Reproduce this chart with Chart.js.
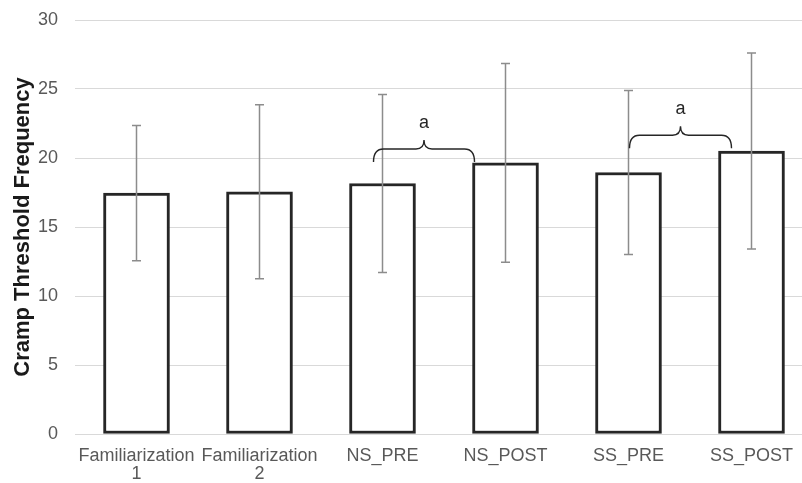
<!DOCTYPE html>
<html>
<head>
<meta charset="utf-8">
<script src="https://cdn.jsdelivr.net/npm/chart.js@4"></script>
<style>
  html, body { margin: 0; padding: 0; overflow: hidden; background: #fff; }
</style>
</head>
<body>
<canvas id="chart" width="813" height="483"></canvas>
<script>
const categories = [['Familiarization', '1'], ['Familiarization', '2'], 'NS_PRE', 'NS_POST', 'SS_PRE', 'SS_POST'];
const means = [17.45, 17.55, 18.15, 19.65, 18.95, 20.5];
const sds = [4.9, 6.3, 6.45, 7.2, 5.95, 7.1];
const yTicks = [0, 5, 10, 15, 20, 25, 30];

// significance braces: category pair, height in data units
const braces = [
  { from: 2, to: 3, y: 20.65, label: 'a', dxFrom: -9, dxTo: -31 },
  { from: 4, to: 5, y: 21.65, label: 'a', dxFrom: 1, dxTo: -20 }
];

const FONT = '"Liberation Sans", Arial, sans-serif';

const errorBars = {
  id: 'errorBars',
  afterDatasetsDraw(chart) {
    const ctx = chart.ctx;
    const x = chart.scales.x, y = chart.scales.y;
    ctx.save();
    ctx.strokeStyle = '#8c8c8c';
    ctx.lineWidth = 1.5;
    means.forEach((m, i) => {
      const px = x.getPixelForValue(i);
      const top = y.getPixelForValue(m + sds[i]);
      const bot = y.getPixelForValue(m - sds[i]);
      ctx.beginPath();
      ctx.moveTo(px, top); ctx.lineTo(px, bot);
      ctx.moveTo(px - 4.5, top); ctx.lineTo(px + 4.5, top);
      ctx.moveTo(px - 4.5, bot); ctx.lineTo(px + 4.5, bot);
      ctx.stroke();
    });
    ctx.restore();
  }
};

const braceMarks = {
  id: 'braceMarks',
  afterDatasetsDraw(chart) {
    const ctx = chart.ctx;
    const x = chart.scales.x, y = chart.scales.y;
    ctx.save();
    ctx.strokeStyle = '#262626';
    ctx.lineWidth = 1.4;
    braces.forEach(b => {
      const x0 = x.getPixelForValue(b.from) + b.dxFrom;
      const x1 = x.getPixelForValue(b.to) + b.dxTo;
      const yb = y.getPixelForValue(b.y);
      const xm = (x0 + x1) / 2;
      const drop = 13, peak = 9, r = 10, rm = 8;
      ctx.beginPath();
      ctx.moveTo(x0, yb + drop);
      ctx.quadraticCurveTo(x0, yb, x0 + r, yb);
      ctx.lineTo(xm - rm, yb);
      ctx.quadraticCurveTo(xm, yb, xm, yb - peak);
      ctx.quadraticCurveTo(xm, yb, xm + rm, yb);
      ctx.lineTo(x1 - r, yb);
      ctx.quadraticCurveTo(x1, yb, x1, yb + drop);
      ctx.stroke();
      ctx.fillStyle = '#262626';
      ctx.font = '18px ' + FONT;
      ctx.textAlign = 'center';
      ctx.textBaseline = 'middle';
      ctx.fillText(b.label, xm, yb - peak - 17);
    });
    ctx.restore();
  }
};

new Chart(document.getElementById('chart'), {
  type: 'bar',
  data: {
    labels: categories,
    datasets: [{
      data: means,
      backgroundColor: '#ffffff',
      borderColor: '#262626',
      borderWidth: 3,
      borderSkipped: false,
      barThickness: 66
    }]
  },
  options: {
    responsive: false,
    animation: false,
    devicePixelRatio: 1,
    layout: { padding: { top: 20, left: 0, right: 0, bottom: 0 } },
    plugins: {
      legend: { display: false },
      tooltip: { enabled: false }
    },
    scales: {
      x: {
        grid: { display: false, drawTicks: false },
        border: { display: false },
        ticks: {
          color: '#595959',
          font: { family: FONT, size: 18, lineHeight: 1.0 },
          padding: 13,
          maxRotation: 0,
          autoSkip: false
        },
        afterFit(scale) { scale.height = 49; }
      },
      y: {
        min: 0,
        max: 30,
        afterBuildTicks(scale) { scale.ticks = yTicks.map(v => ({ value: v })); },
        grid: { color: '#d9d9d9', lineWidth: 1, drawTicks: false },
        border: { display: false },
        ticks: {
          color: '#595959',
          font: { family: FONT, size: 18 },
          padding: 17
        },
        title: {
          display: true,
          text: 'Cramp Threshold Frequency',
          color: '#1a1a1a',
          font: { family: FONT, size: 22, weight: 'bold' },
          padding: { top: 10, bottom: 0 }
        },
        afterFit(scale) {
          scale.width = 75;
          scale.paddingTop = 0;
          scale.paddingBottom = 0;
        }
      }
    }
  },
  plugins: [errorBars, braceMarks]
});
</script>
</body>
</html>
